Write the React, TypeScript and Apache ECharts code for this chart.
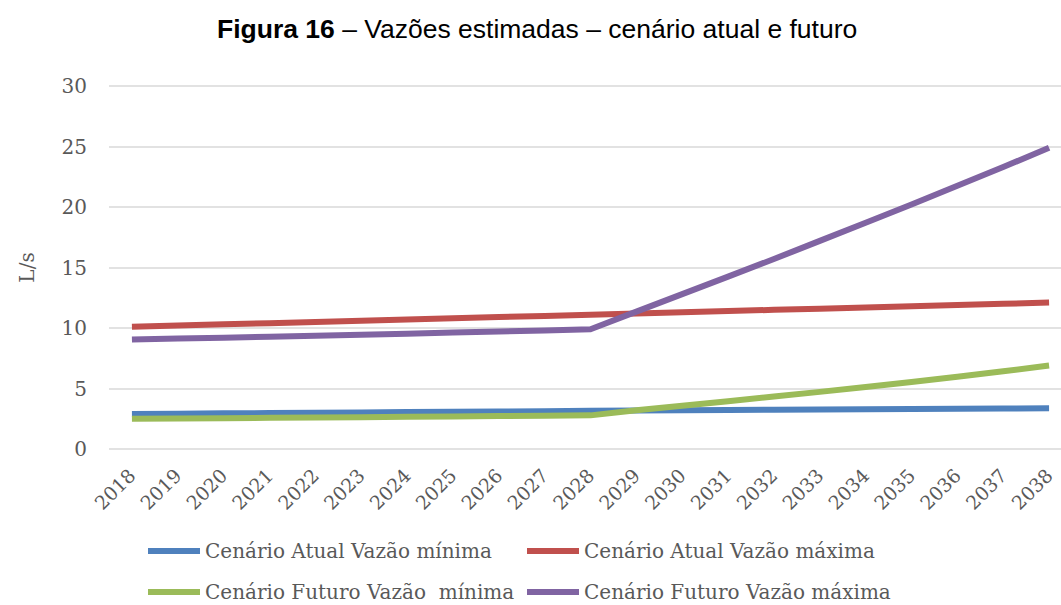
import React, { useEffect, useRef } from "react";
import * as echarts from "echarts";

const years = ["2018","2019","2020","2021","2022","2023","2024","2025","2026","2027","2028","2029","2030","2031","2032","2033","2034","2035","2036","2037","2038"];
const atualMin = [2.9, 2.92, 2.95, 2.97, 3.0, 3.02, 3.05, 3.07, 3.1, 3.13, 3.16, 3.18, 3.2, 3.22, 3.24, 3.26, 3.28, 3.3, 3.32, 3.34, 3.36];
const atualMax = [10.1, 10.2, 10.3, 10.4, 10.5, 10.6, 10.7, 10.8, 10.9, 11.0, 11.1, 11.2, 11.3, 11.4, 11.5, 11.6, 11.7, 11.8, 11.9, 12.0, 12.1];
const futuroMin = [2.5, 2.53, 2.55, 2.58, 2.61, 2.63, 2.66, 2.69, 2.72, 2.75, 2.78, 3.2, 3.58, 3.95, 4.33, 4.72, 5.12, 5.54, 5.97, 6.42, 6.9];
const futuroMax = [9.05, 9.13, 9.2, 9.28, 9.36, 9.45, 9.53, 9.62, 9.71, 9.8, 9.9, 11.35, 12.8, 14.25, 15.7, 17.2, 18.7, 20.2, 21.75, 23.3, 24.9];

const seriesNames = [
  "Cenário Atual Vazão mínima",
  "Cenário Atual Vazão máxima",
  "Cenário Futuro Vazão  mínima",
  "Cenário Futuro Vazão máxima",
];
const colors = ["#4F81BD", "#C0504D", "#9BBB59", "#8064A2"];

const SERIF = "'DejaVu Serif', serif";

export default function App() {
  const ref = useRef<HTMLDivElement>(null);
  useEffect(() => {
    if (!ref.current) return;
    const chart = echarts.init(ref.current, null, { renderer: "svg" });
    const dataSets = [atualMin, atualMax, futuroMin, futuroMax];
    const legendPos = [
      { left: 148, top: 541 },
      { left: 527, top: 541 },
      { left: 148, top: 582 },
      { left: 527, top: 582 },
    ];
    chart.setOption({
      animation: false,
      backgroundColor: "#ffffff",
      color: colors,
      title: {
        text: "{b|Figura 16} – Vazões estimadas – cenário atual e futuro",
        left: 212,
        top: 10,
        textStyle: {
          fontFamily: "'Liberation Sans', Arial, sans-serif",
          fontSize: 26.5,
          fontWeight: "normal",
          color: "#000000",
          rich: {
            b: {
              fontFamily: "'Liberation Sans', Arial, sans-serif",
              fontSize: 26.5,
              fontWeight: "bold",
              color: "#000000",
            },
          },
        },
      },
      legend: seriesNames.map((n, i) => ({
        data: [n],
        left: legendPos[i].left,
        top: legendPos[i].top,
        icon: "rect",
        itemWidth: 52,
        itemHeight: 6,
        padding: 0,
        textStyle: { fontFamily: SERIF, fontSize: 20, lineHeight: 20, color: "#595959" },
      })),
      grid: { left: 109, top: 86, width: 963, height: 363 },
      xAxis: {
        type: "category",
        data: years,
        boundaryGap: true,
        axisLine: { show: false },
        axisTick: { show: false },
        axisLabel: {
          rotate: 45,
          margin: 23,
          fontFamily: SERIF,
          fontSize: 19,
          color: "#595959",
        },
      },
      yAxis: {
        type: "value",
        min: 0,
        max: 30,
        interval: 5,
        name: "L/s",
        nameLocation: "middle",
        nameRotate: 90,
        nameGap: 72,
        nameTextStyle: { fontFamily: SERIF, fontSize: 20, color: "#595959" },
        axisLine: { show: false },
        axisTick: { show: false },
        splitLine: { lineStyle: { color: "#D9D9D9", width: 1.5 } },
        axisLabel: {
          margin: 22,
          fontFamily: SERIF,
          fontSize: 20,
          color: "#595959",
        },
      },
      series: seriesNames.map((n, i) => ({
        name: n,
        type: "line",
        data: dataSets[i],
        symbol: "none",
        lineStyle: { width: 6, color: colors[i], join: "round" },
        itemStyle: { color: colors[i] },
      })),
    });
    return () => chart.dispose();
  }, []);
  return (
    <div
      style={{ position: "fixed", left: 0, top: 0, width: 1061, height: 605, overflow: "hidden", background: "#fff" }}
    >
      <div ref={ref} style={{ width: 1100, height: 605 }} />
    </div>
  );
}
